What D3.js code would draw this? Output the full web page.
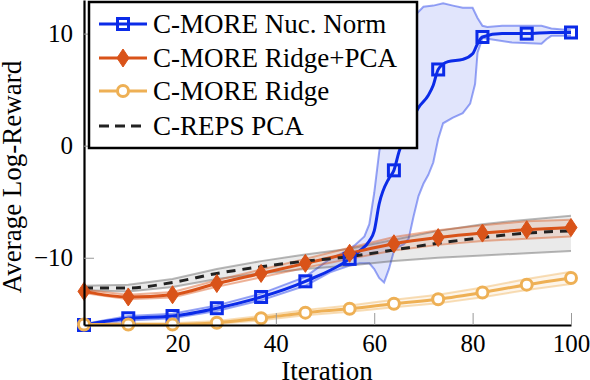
<!DOCTYPE html>
<html>
<head>
<meta charset="utf-8">
<script src="https://cdn.jsdelivr.net/npm/d3@7"></script>
<style>
  body { margin: 0; background: #fff; }
</style>
</head>
<body>
<svg width="590" height="380"></svg>
<script>
// iterations where the markers sit (every 9th)
const markIters = [1, 10, 19, 28, 37, 46, 55, 64, 73, 82, 91, 100];

// C-MORE Nuc. Norm (mean + std band)
const blueIter = [1, 10, 19, 28, 37, 46, 55, 57, 59, 60, 61, 63, 64, 65, 69, 71, 72, 73, 75, 78, 80, 81, 82, 86, 91, 96, 100];
const blueMean = [-16, -15.4, -15.2, -14.5, -13.5, -12.1, -10.1, -9.4, -8.5, -7.6, -5.2, -2.9, -2.2, -0.6, 3.4, 4.5, 5.4, 6.8, 7.5, 7.7, 8.2, 9.1, 9.7, 10.0, 10.0, 10.1, 10.1];
const blueUpIter = [1, 10, 19, 28, 37, 46, 51, 54, 56, 58, 59, 60, 61, 62, 64, 66, 68, 70, 72, 74, 76, 78, 80, 81, 82, 83, 86, 94, 96, 100];
const blueUp = [-15.9, -15.2, -15.0, -14.25, -13.2, -11.7, -10.1, -9.5, -8.9, -8.1, -7.0, -4.2, -0.6, 2.0, 6.0, 9.5, 11.5, 12.4, 12.5, 12.7, 12.5, 12.3, 12.3, 11.4, 10.7, 10.6, 10.7, 10.7, 10.45, 10.3];
const blueLoIter = [1, 10, 19, 28, 37, 46, 51, 55, 57, 59, 60, 61, 62, 63, 64, 65, 66, 67, 68, 69, 70, 71, 72, 73, 74, 76, 78, 79.5, 80.5, 81, 82, 83, 88, 94, 95, 96, 100];
const blueLo = [-16.1, -15.6, -15.4, -14.75, -13.8, -12.5, -11.3, -10.7, -10.5, -10.5, -11.0, -11.8, -12.2, -11.0, -9.4, -9.0, -8.8, -8.3, -6.3, -4.5, -3.4, -2.6, -1.5, 0.6, 2.0, 2.5, 2.9, 3.75, 5.5, 8.3, 9.6, 9.55, 9.2, 9.1, 9.5, 9.8, 9.8];

// C-MORE Ridge+PCA
const orangeMean = [-13.0, -13.5, -13.3, -12.3, -11.4, -10.5, -9.6, -8.75, -8.2, -7.8, -7.5, -7.3];
const orangeUp = [-12.85, -13.3, -13.05, -12.0, -11.05, -10.1, -9.1, -8.15, -7.55, -7.1, -6.75, -6.6];
const orangeLo = [-13.15, -13.7, -13.55, -12.6, -11.75, -10.9, -10.1, -9.35, -8.85, -8.5, -8.3, -8.1];

// C-MORE Ridge
const yellowMean = [-15.95, -15.95, -15.95, -15.8, -15.4, -14.9, -14.55, -14.1, -13.7, -13.1, -12.4, -11.8];
const yellowUp = [-15.85, -15.85, -15.85, -15.65, -15.2, -14.65, -14.25, -13.75, -13.3, -12.65, -11.9, -11.25];
const yellowLo = [-16.05, -16.05, -16.05, -15.92, -15.57, -15.12, -14.82, -14.42, -14.07, -13.52, -12.87, -12.35];

// C-REPS PCA
const grayMean = [-12.7, -12.7, -12.2, -11.4, -10.8, -10.3, -9.9, -9.3, -8.7, -8.2, -7.8, -7.6];
const grayUp = [-12.5, -12.4, -11.9, -11.0, -10.3, -9.7, -9.2, -8.4, -7.6, -7.0, -6.6, -6.25];
const grayLo = [-12.9, -13.0, -12.6, -11.9, -11.4, -11.0, -10.7, -10.3, -10.0, -9.8, -9.6, -9.4];

const xTicks = [20, 40, 60, 80, 100];
const yTicks = [-10, 0, 10];
const labels = ["C-MORE Nuc. Norm", "C-MORE Ridge+PCA", "C-MORE Ridge", "C-REPS PCA"];

const BLUE = "#0b2be8";
const ORANGE = "#d95319";
const YELLOW = "#eeb055";
const GRAY = "#222";
const FONT = "Liberation Serif";

const svg = d3.select("svg");
const x = d3.scaleLinear().domain([1, 100]).range([84, 571]);
const y = d3.scaleLinear().domain([-16, 13]).range([325, 0]);

const zip = (xs, ys) => xs.map((v, i) => [v, ys[i]]);
const smooth = d3.line().x((d) => x(d[0])).y((d) => y(d[1])).curve(d3.curveMonotoneX);
const straight = d3.line().x((d) => x(d[0])).y((d) => y(d[1]));

// Std bands: fill polygon plus the two edge lines
function band(upIter, up, loIter, lo, color) {
  const pts = zip(upIter, up).concat(zip(loIter, lo).reverse());
  svg.append("path")
    .attr("d", straight(pts) + "Z")
    .attr("fill", color)
    .attr("fill-opacity", 0.12);
  [zip(upIter, up), zip(loIter, lo)].forEach((edge) => {
    svg.append("path")
      .attr("d", straight(edge))
      .attr("fill", "none")
      .attr("stroke", color)
      .attr("stroke-opacity", 0.42)
      .attr("stroke-width", 2);
  });
}

band(blueUpIter, blueUp, blueLoIter, blueLo, BLUE);
band(markIters, grayUp, markIters, grayLo, "#555");
band(markIters, orangeUp, markIters, orangeLo, ORANGE);
band(markIters, yellowUp, markIters, yellowLo, YELLOW);

// Mean lines
function meanLine(iters, vals, color, dash) {
  svg.append("path")
    .attr("d", smooth(zip(iters, vals)))
    .attr("fill", "none")
    .attr("stroke", color)
    .attr("stroke-width", 3)
    .attr("stroke-dasharray", dash || null);
}
meanLine(blueIter, blueMean, BLUE);
meanLine(markIters, orangeMean, ORANGE);
meanLine(markIters, yellowMean, YELLOW);
meanLine(markIters, grayMean, GRAY, "9,7");

// Markers
function square(g, color) {
  g.append("rect")
    .attr("x", -5.5).attr("y", -5.5)
    .attr("width", 11).attr("height", 11)
    .attr("fill", "none")
    .attr("stroke", color)
    .attr("stroke-width", 3);
}
function diamond(g, color) {
  g.append("path")
    .attr("d", "M0,-9L6,0L0,9L-6,0Z")
    .attr("fill", color)
    .attr("stroke", color)
    .attr("stroke-width", 1);
}
function ring(g, color) {
  g.append("circle")
    .attr("r", 5.5)
    .attr("fill", "#fff")
    .attr("stroke", color)
    .attr("stroke-width", 3);
}

const blueMarks = zip(blueIter, blueMean).filter((d) => markIters.includes(d[0]));
function marks(pts, draw, color) {
  svg.append("g")
    .selectAll("g")
    .data(pts)
    .enter()
    .append("g")
    .attr("transform", (d) => "translate(" + x(d[0]) + "," + y(d[1]) + ")")
    .each(function () { draw(d3.select(this), color); });
}
marks(blueMarks, square, BLUE);
marks(zip(markIters, orangeMean), diamond, ORANGE);
marks(zip(markIters, yellowMean), ring, YELLOW);

// Axes
const yAxis = svg.append("g")
  .attr("transform", "translate(" + x(1) + ",0)")
  .call(d3.axisLeft(y).tickValues(yTicks).tickSizeInner(-10).tickSizeOuter(0).tickPadding(11));
const xAxis = svg.append("g")
  .attr("transform", "translate(0," + y(-16) + ")")
  .call(d3.axisBottom(x).tickValues(xTicks).tickSizeInner(-12).tickSizeOuter(0).tickPadding(9));
[yAxis, xAxis].forEach((a) => {
  a.attr("font-family", FONT).attr("font-size", 25);
  a.select(".domain").attr("stroke", "#000").attr("stroke-width", 2.2);
  a.selectAll(".tick line").attr("stroke", "#999").attr("stroke-width", 1);
  a.selectAll(".tick text").attr("fill", "#000");
});

// Axis titles
svg.append("text")
  .attr("x", 327)
  .attr("y", 380)
  .attr("text-anchor", "middle")
  .attr("font-family", FONT)
  .attr("font-size", 27)
  .text("Iteration");
svg.append("text")
  .attr("transform", "translate(21,177)rotate(-90)")
  .attr("text-anchor", "middle")
  .attr("font-family", FONT)
  .attr("font-size", 27)
  .text("Average Log-Reward");

// Legend
const legend = svg.append("g");
legend.append("rect")
  .attr("x", 89).attr("y", 2)
  .attr("width", 328).attr("height", 146)
  .attr("fill", "#fff")
  .attr("stroke", "#000")
  .attr("stroke-width", 2.5);
const rowY = [24, 58, 91, 126];
const legendColors = [BLUE, ORANGE, YELLOW, GRAY];
const legendMarks = [square, diamond, ring, null];
labels.forEach((label, i) => {
  legend.append("line")
    .attr("x1", 99).attr("x2", 147)
    .attr("y1", rowY[i]).attr("y2", rowY[i])
    .attr("stroke", legendColors[i])
    .attr("stroke-width", 3)
    .attr("stroke-dasharray", legendMarks[i] ? null : "10,6");
  if (legendMarks[i]) {
    const g = legend.append("g").attr("transform", "translate(123," + rowY[i] + ")");
    legendMarks[i](g, legendColors[i]);
  }
  legend.append("text")
    .attr("x", 153)
    .attr("y", rowY[i] + 9)
    .attr("font-family", FONT)
    .attr("font-size", 27)
    .text(label);
});
</script>
</body>
</html>
